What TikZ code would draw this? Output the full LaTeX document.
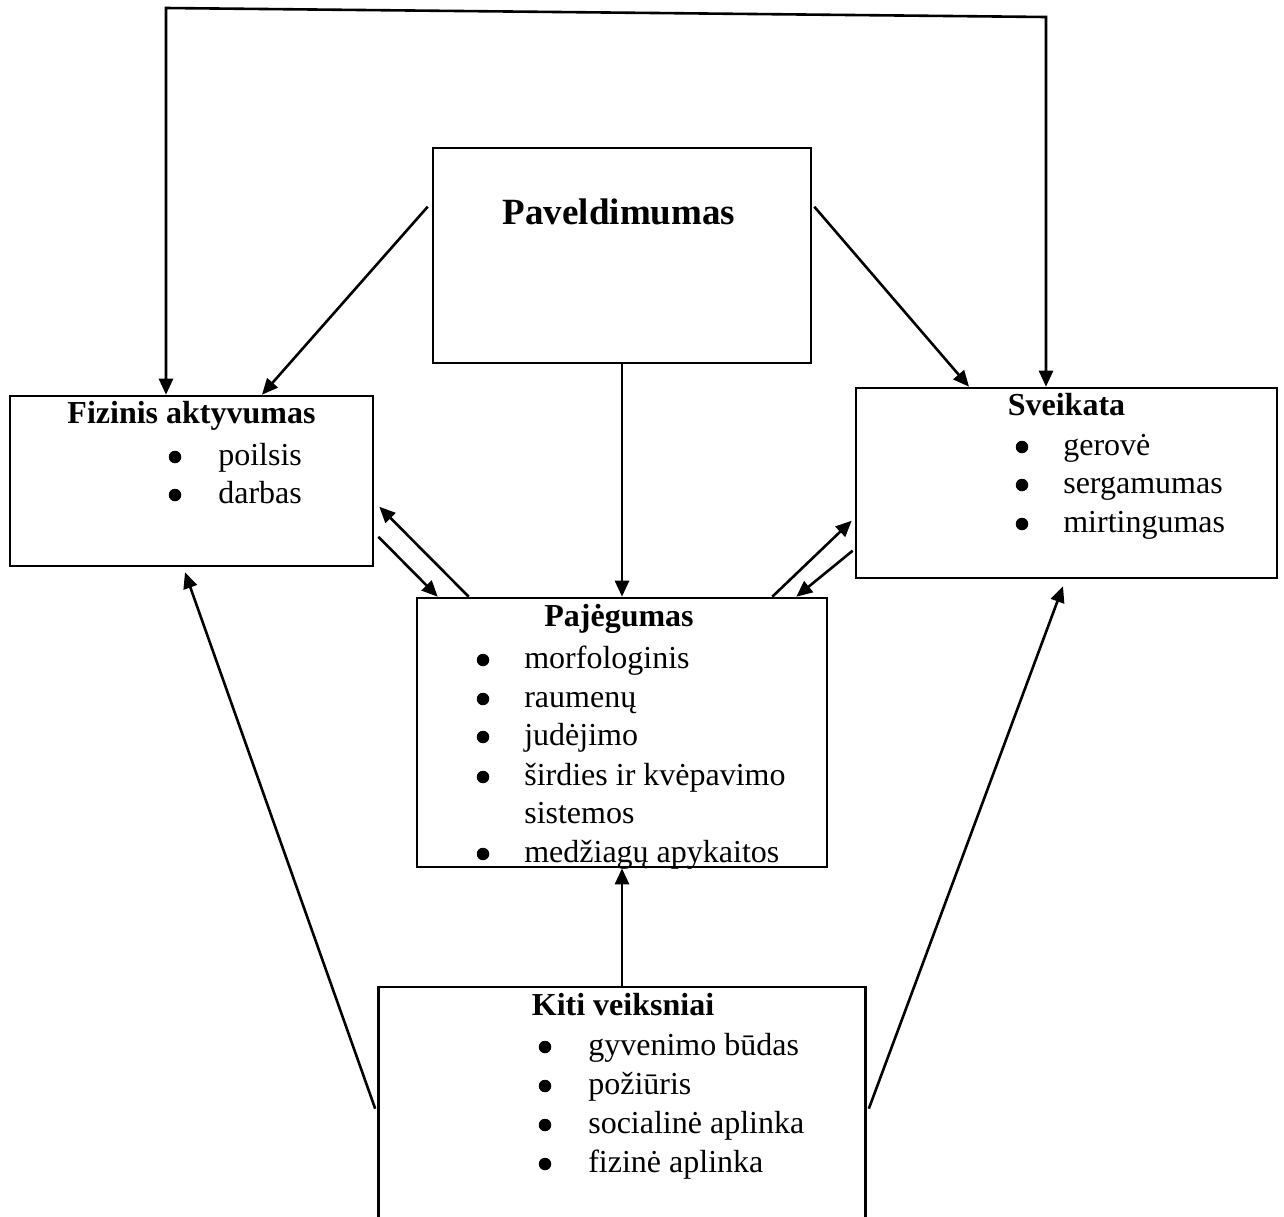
\documentclass[tikz,border=0pt]{standalone}
\usepackage{fontspec}
\setmainfont{Liberation Serif}
\usetikzlibrary{arrows.meta}

\begin{document}
\begin{tikzpicture}[x=1pt, y=-1pt, line width=2.6pt]
		\tikzstyle{box} = [draw, rectangle, inner sep=0pt]
		\tikzstyle{heading} = [inner sep=0pt, anchor=base, font=\fontsize{32}{38}\selectfont\bfseries]
		\tikzstyle{entry} = [inner sep=0pt, anchor=base west, font=\fontsize{32}{38}\selectfont]
		\tikzstyle{bul} = [circle, fill, inner sep=0pt, minimum size=12.5pt]
		\tikzstyle{arr} = [-{Triangle[length=16pt, width=14pt]}]
		\tikzstyle{arrboth} = [{Triangle[length=16pt, width=14pt]}-{Triangle[length=16pt, width=14pt]}]
		\path[use as bounding box, clip] (0,0) rectangle (1284,1216);

		% boxes
		\node[box, minimum width=378, minimum height=215] (pav) at (622,255.5) {};
		\node[box, minimum width=363, minimum height=170] (fiz) at (191.5,481) {};
		\node[box, minimum width=421, minimum height=190] (sve) at (1066.5,483) {};
		\node[box, minimum width=410, minimum height=269] (paj) at (622,732.5) {};
		\node[box, minimum width=487, minimum height=238] (kiti) at (622,1106) {};

		% headings
		\node[heading, font=\fontsize{37}{44}\selectfont\bfseries] (pav-head) at ([shift={(-3,78)}]pav.north) {Paveldimumas};
		\node[heading] (fiz-head) at ([shift={(0,29)}]fiz.north) {Fizinis aktyvumas};
		\node[heading] (sve-head) at ([shift={(0,29)}]sve.north) {Sveikata};
		\node[heading] (paj-head) at ([shift={(-3,30)}]paj.north) {Pajėgumas};
		\node[heading] (kiti-head) at ([shift={(1,30)}]kiti.north) {Kiti veiksniai};

		% Fizinis aktyvumas items
		\foreach \txt / \y [count=\i] in {poilsis/465, darbas/503} {
			\node[bul] (fiz-bul-\i) at (175,\y-8) {};
			\node[entry] (fiz-item-\i) at (217,\y) {\txt};
		}

		% Sveikata items
		\foreach \txt / \y [count=\i] in {gerovė/455, sergamumas/493, mirtingumas/532} {
			\node[bul] (sve-bul-\i) at (1022,\y-8) {};
			\node[entry] (sve-item-\i) at (1062,\y) {\txt};
		}

		% Pajegumas items
		\foreach \txt / \y [count=\i] in {morfologinis/668, raumenų/707, judėjimo/745, širdies ir kvėpavimo/785, medžiagų apykaitos/862} {
			\node[bul] (paj-bul-\i) at (483,\y-8) {};
			\node[entry] (paj-item-\i) at (523,\y) {\txt};
		}
		\node[entry] (paj-item-wrap) at (523,823) {sistemos};

		% Kiti veiksniai items
		\foreach \txt / \y [count=\i] in {gyvenimo būdas/1055, požiūris/1094, socialinė aplinka/1133, fizinė aplinka/1172} {
			\node[bul] (kiti-bul-\i) at (545,\y-8) {};
			\node[entry] (kiti-item-\i) at (587,\y) {\txt};
		}

		% top connection
		\coordinate (tl) at (166,8);
		\coordinate (tr) at (1046,17);
		\draw[arrboth] (tl |- fiz.north) -- (tl) -- (tr) -- (tr |- sve.north);

		% heredity connections
		\draw[arr] ([shift={(-4,60)}]pav.north west) -- ([shift={(70.5,0)}]fiz.north);
		\draw[arr] ([shift={(2,60)}]pav.north east) -- ([shift={(-97.5,0)}]sve.north);
		\draw[arr] (pav.south) -- (paj.north);

		% capacity connections
		\draw[arr] ([shift={(53,0)}]paj.north west) -- ([shift={(5,112)}]fiz.north east);
		\draw[arr] ([shift={(4,142)}]fiz.north east) -- ([shift={(22,0)}]paj.north west);
		\draw[arr] ([shift={(-56,0)}]paj.north east) -- ([shift={(-3,134)}]sve.north west);
		\draw[arr] ([shift={(-2,164)}]sve.north west) -- ([shift={(-32,0)}]paj.north east);

		% other factors connections
		\draw[arr] (kiti.north) -- (paj.south);
		\draw[arr] ([shift={(-2,123)}]kiti.north west) -- ([shift={(-6.5,5)}]fiz.south);
		\draw[arr] ([shift={(2,123)}]kiti.north east) -- ([shift={(-3.5,7)}]sve.south);
	\end{tikzpicture}
\end{document}
